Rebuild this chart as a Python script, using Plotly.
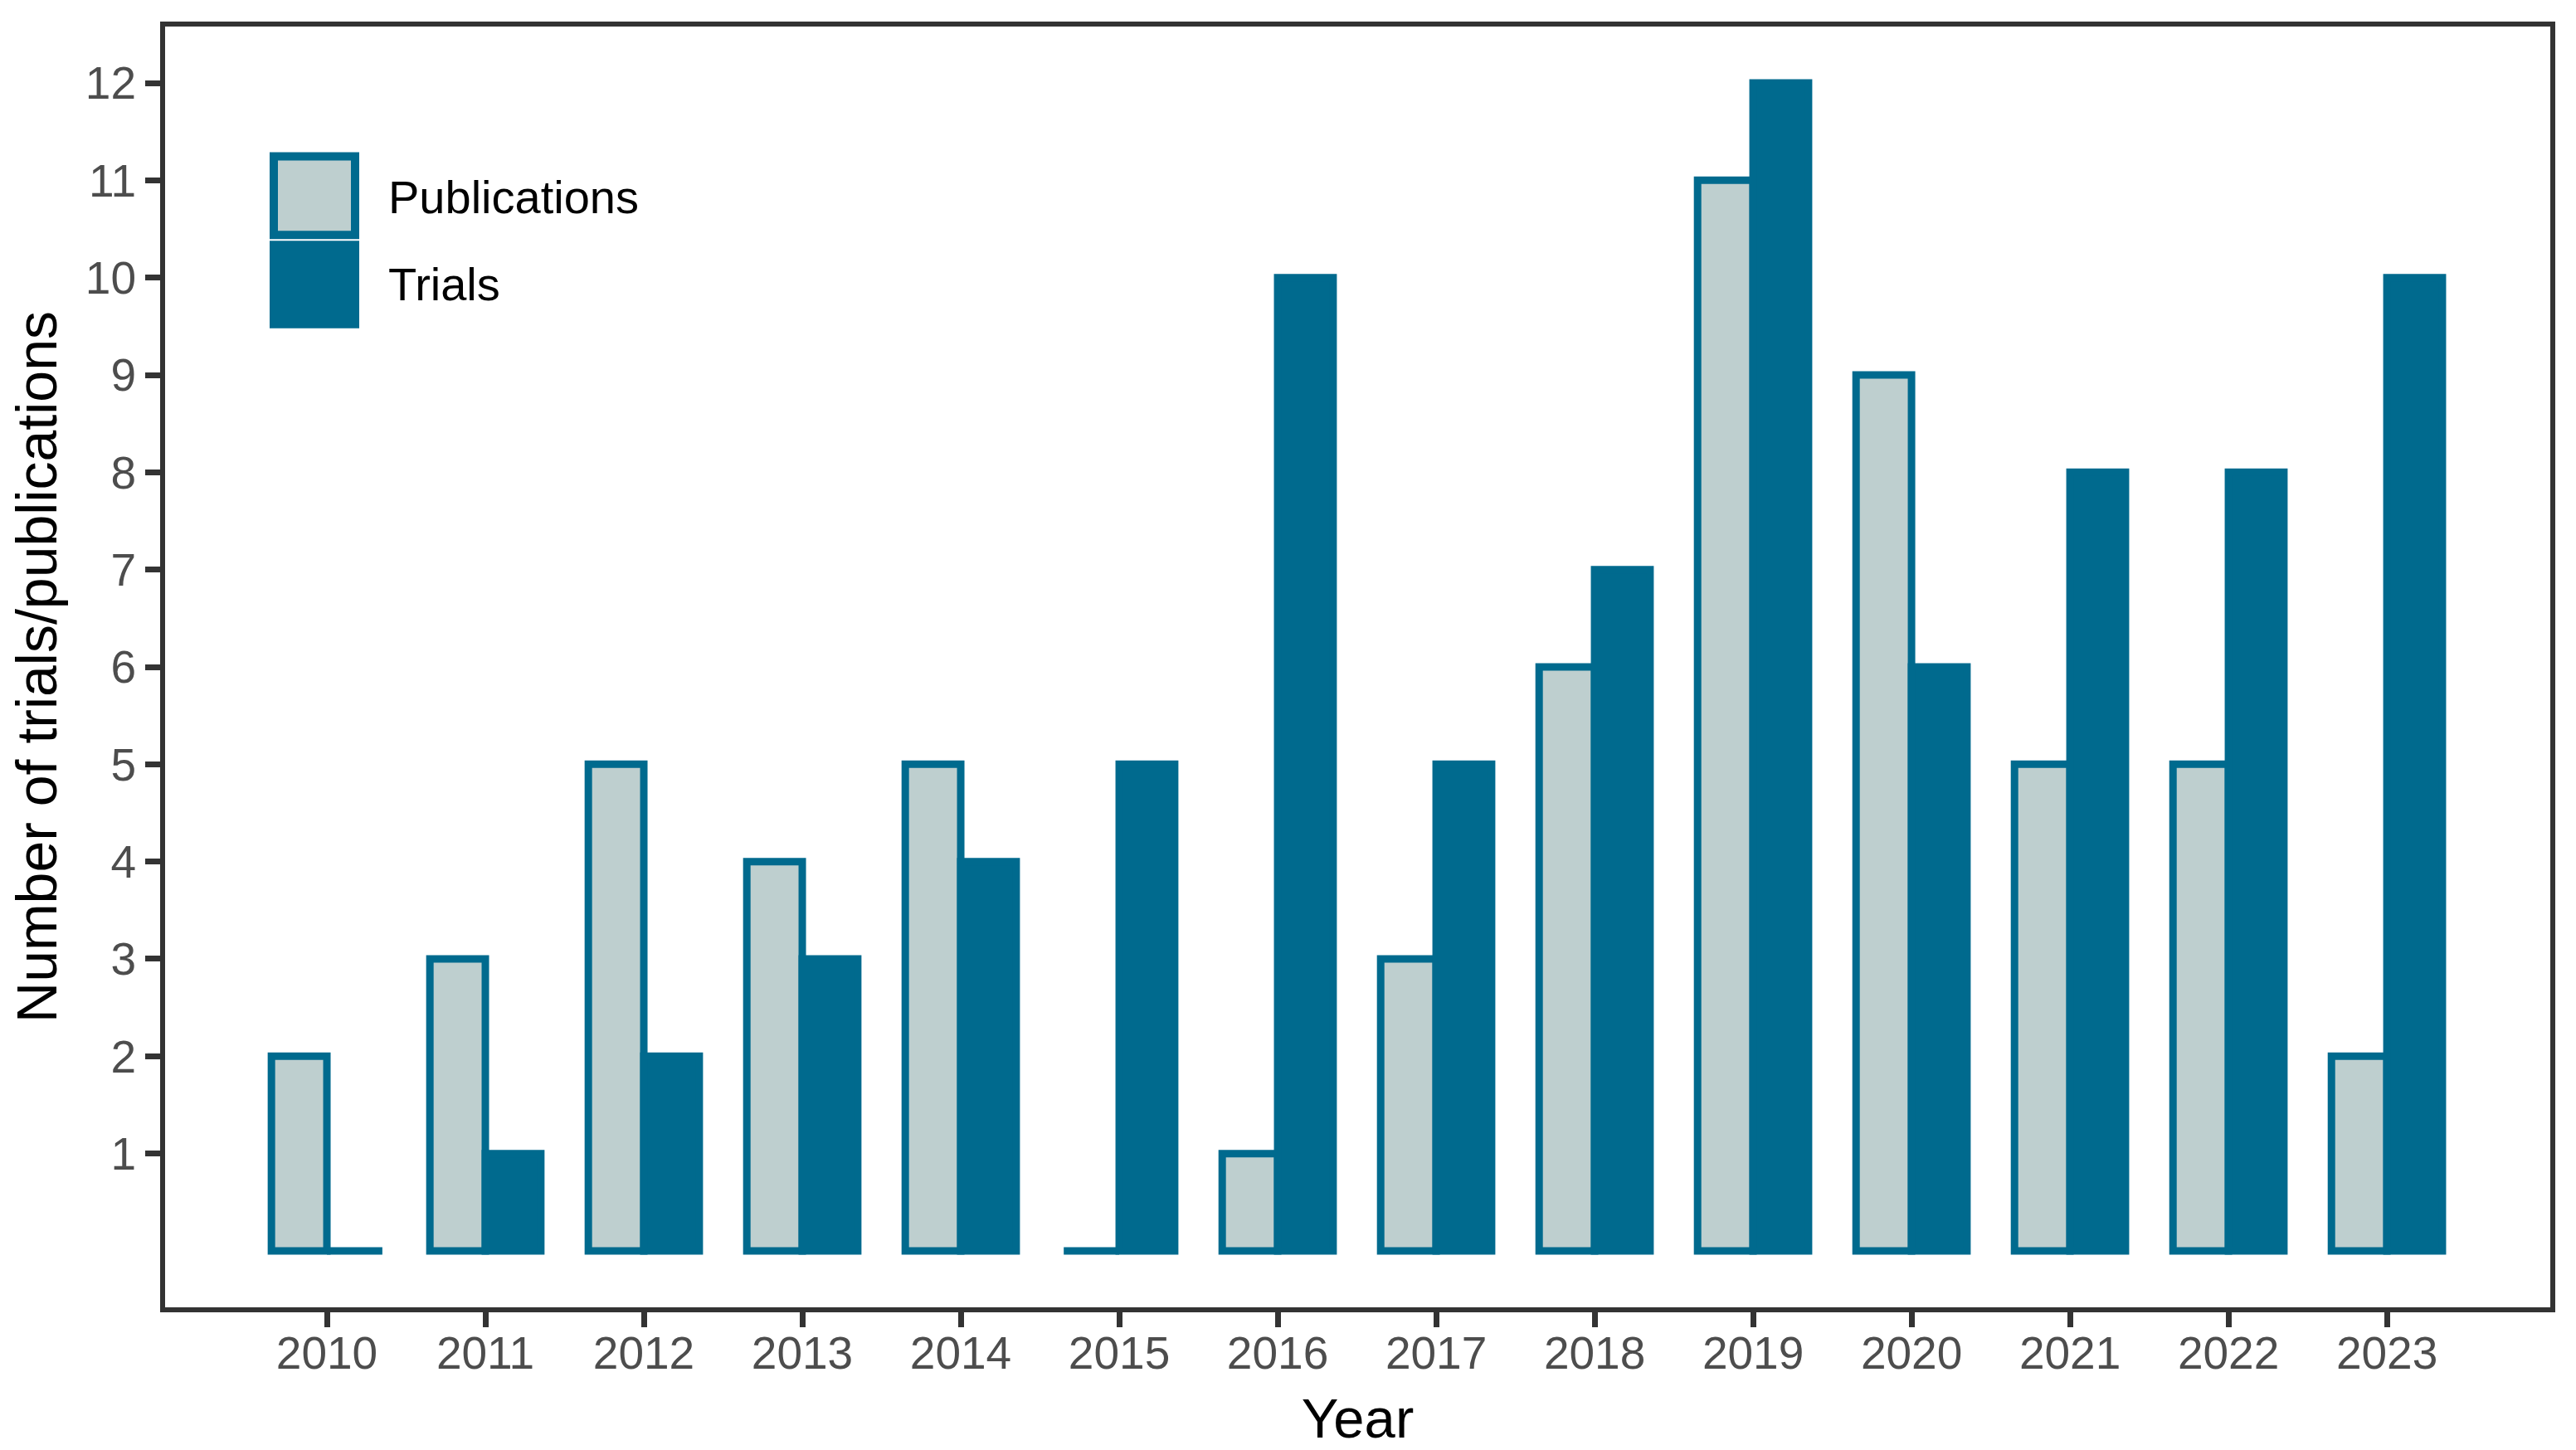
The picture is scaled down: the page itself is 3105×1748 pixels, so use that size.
import plotly.graph_objects as go

years = ["2010", "2011", "2012", "2013", "2014", "2015", "2016",
         "2017", "2018", "2019", "2020", "2021", "2022", "2023"]
publications = [2, 3, 5, 4, 5, 0, 1, 3, 6, 11, 9, 5, 5, 2]
trials = [0, 1, 2, 3, 4, 5, 10, 5, 7, 12, 6, 8, 8, 10]
y_ticks = list(range(1, 13))
series_names = ["Publications", "Trials"]

TEAL = "#006A8E"
LIGHT = "#BECFCF"
AXIS = "#333333"
TICKTXT = "#4D4D4D"
FONT = "Liberation Sans, Arial, sans-serif"

W, H = 3105, 1748
L, R, T, B = 199, 31, 32, 167
LW = 9

fig = go.Figure()
fig.add_trace(go.Bar(
    name=series_names[0], x=years, y=publications,
    marker=dict(color=LIGHT, line=dict(color=TEAL, width=LW)),
))
fig.add_trace(go.Bar(
    name=series_names[1], x=years, y=trials,
    marker=dict(color=TEAL, line=dict(color=TEAL, width=LW)),
))

# custom legend (large ggplot-style keys)
pw, ph = W - L - R, H - T - B
def px(x):
    return (x - L) / pw
def py(y):
    return (H - B - y) / ph

shapes = [
    dict(type="rect", xref="paper", yref="paper",
         x0=px(330), x1=px(428), y0=py(284), y1=py(189),
         fillcolor=LIGHT, line=dict(color=TEAL, width=10), layer="above"),
    dict(type="rect", xref="paper", yref="paper",
         x0=px(325), x1=px(433), y0=py(397), y1=py(291),
         fillcolor=TEAL, line=dict(width=0), layer="above"),
]
annotations = [
    dict(text=series_names[0], xref="paper", yref="paper", x=px(466), y=py(238),
         xanchor="left", yanchor="middle", showarrow=False,
         font=dict(size=56, color="black", family=FONT)),
    dict(text=series_names[1], xref="paper", yref="paper", x=px(466), y=py(344),
         xanchor="left", yanchor="middle", showarrow=False,
         font=dict(size=56, color="black", family=FONT)),
]

fig.update_layout(
    width=W, height=H,
    margin=dict(l=L, r=R, t=T, b=B),
    plot_bgcolor="white", paper_bgcolor="white",
    barmode="group", bargap=0.3, bargroupgap=0,
    showlegend=False,
    font=dict(family=FONT),
    shapes=shapes, annotations=annotations,
)
fig.update_xaxes(
    type="category", categoryorder="array", categoryarray=years,
    range=[-1.021, 14.031],
    showline=True, mirror=True, linecolor=AXIS, linewidth=6,
    ticks="outside", ticklen=18, tickwidth=7, tickcolor=AXIS,
    ticklabelstandoff=-16,
    tickfont=dict(size=55, color=TICKTXT, family=FONT),
    showgrid=False, zeroline=False,
    title=dict(text="Year", font=dict(size=67, color="black", family=FONT), standoff=27),
)
fig.update_yaxes(
    range=[-0.58, 12.58], tickvals=y_ticks,
    showline=True, mirror=True, linecolor=AXIS, linewidth=6,
    ticks="outside", ticklen=18, tickwidth=7, tickcolor=AXIS,
    tickfont=dict(size=55, color=TICKTXT, family=FONT),
    showgrid=False, zeroline=False,
    title=dict(text="Number of trials/publications",
               font=dict(size=68, color="black", family=FONT), standoff=14),
)

fig.write_html(
    "out.html",
    config={"displayModeBar": False},
    post_script="document.body.style.margin='0';document.body.style.overflow='hidden';",
)
